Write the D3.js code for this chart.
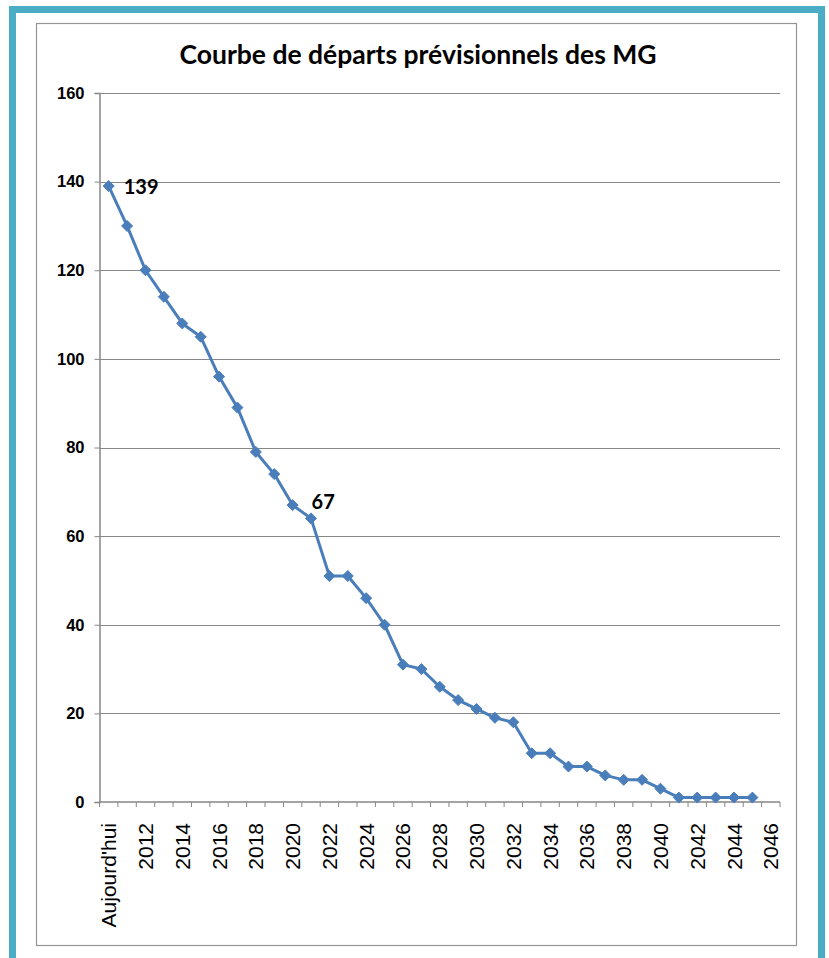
<!DOCTYPE html>
<html>
<head>
<meta charset="utf-8">
<script src="https://cdn.jsdelivr.net/npm/d3@7"></script>
<style>
  html, body { margin: 0; padding: 0; background: #fff; }
  svg { display: block; }
</style>
</head>
<body>
<svg id="chart" width="829" height="958"></svg>
<script>
// Categories: "Aujourd'hui" followed by the years 2011 … 2046
const categories = ["Aujourd'hui"].concat(d3.range(2011, 2047).map(String));

// Forecast number of GPs remaining (one value per category, 2046 has none)
const values = [139, 130, 120, 114, 108, 105, 96, 89, 79, 74, 67, 64, 51, 51, 46, 40,
                31, 30, 26, 23, 21, 19, 18, 11, 11, 8, 8, 6, 5, 5, 3, 1, 1, 1, 1, 1];

// Y axis ticks
const yTicks = [0, 20, 40, 60, 80, 100, 120, 140, 160];

// Categories whose value is written next to the marker
const labelledIndices = [0, 10];

const titleText = "Courbe de départs prévisionnels des MG";

const svg = d3.select("#chart");
const W = 829, H = 958;

// Outer frame and chart border
svg.append("rect").attr("x", 0).attr("y", 0).attr("width", W).attr("height", H).attr("fill", "#fff");
svg.append("rect")
  .attr("x", 12.5).attr("y", 9.5).attr("width", 809).attr("height", 960)
  .attr("fill", "none").attr("stroke", "#4BACC6").attr("stroke-width", 7);
svg.append("rect")
  .attr("x", 36.5).attr("y", 23.5).attr("width", 760).attr("height", 922)
  .attr("fill", "none").attr("stroke", "#969696").attr("stroke-width", 1.2);

// Plot area
const plot = { left: 99.5, right: 780, top: 93, bottom: 802 };

const x = d3.scaleBand()
  .domain(categories)
  .range([plot.left, plot.right])
  .paddingInner(0).paddingOuter(0);

const y = d3.scaleLinear()
  .domain([0, 160])
  .range([plot.bottom, plot.top]);

// Horizontal gridlines
svg.append("g")
  .selectAll("line")
  .data(yTicks.filter(t => t > 0))
  .join("line")
  .attr("x1", plot.left).attr("x2", plot.right)
  .attr("y1", d => Math.round(y(d)) + 0.5).attr("y2", d => Math.round(y(d)) + 0.5)
  .attr("stroke", "#868686").attr("stroke-width", 1);

// Title
svg.append("text")
  .attr("x", 418).attr("y", 64)
  .attr("text-anchor", "middle")
  .attr("font-family", "Lato, 'Open Sans', sans-serif")
  .attr("font-weight", "bold")
  .attr("font-size", 26.5)
  .attr("fill", "#000")
  .text(titleText);

// Y axis
const yAxis = svg.append("g")
  .attr("transform", `translate(${plot.left},0)`)
  .call(d3.axisLeft(y).tickValues(yTicks).tickSize(5).tickPadding(10).tickFormat(d3.format("d")));
yAxis.select(".domain").attr("stroke", "#868686").attr("stroke-width", 1.5);
yAxis.selectAll(".tick line").attr("stroke", "#868686").attr("stroke-width", 1);
yAxis.selectAll(".tick text")
  .attr("font-family", "'Liberation Sans', Arial, sans-serif")
  .attr("font-weight", "bold")
  .attr("font-size", 16.5)
  .attr("fill", "#000");

// X axis: ticks at category boundaries, labels on every other category
const xAxisG = svg.append("g").attr("transform", `translate(0,${plot.bottom})`);
xAxisG.append("line")
  .attr("x1", plot.left).attr("x2", plot.right)
  .attr("y1", 0).attr("y2", 0)
  .attr("stroke", "#868686").attr("stroke-width", 1.5);
const boundaries = categories.map(c => x(c)).concat([x(categories[categories.length - 1]) + x.bandwidth()]);
xAxisG.selectAll("line.tick")
  .data(boundaries)
  .join("line")
  .attr("class", "tick")
  .attr("x1", d => d).attr("x2", d => d)
  .attr("y1", 0).attr("y2", 5)
  .attr("stroke", "#868686").attr("stroke-width", 1);
xAxisG.selectAll("text")
  .data(categories.filter((c, i) => i % 2 === 0))
  .join("text")
  .attr("transform", d => `translate(${x(d) + x.bandwidth() / 2 + 7.5},21) rotate(-90)`)
  .attr("text-anchor", "end")
  .attr("font-family", "'Liberation Sans', Arial, sans-serif")
  .attr("font-size", 21)
  .attr("fill", "#000")
  .text(d => d);

// Series line and markers
const points = values.map((v, i) => ({ cat: categories[i], v, i }));
const cx = d => x(d.cat) + x.bandwidth() / 2;

svg.append("path")
  .datum(points)
  .attr("fill", "none")
  .attr("stroke", "#4A7EBB")
  .attr("stroke-width", 3)
  .attr("stroke-linejoin", "round")
  .attr("d", d3.line().x(cx).y(d => y(d.v)));

const r = 5.5;
svg.append("g")
  .selectAll("path")
  .data(points)
  .join("path")
  .attr("transform", d => `translate(${cx(d)},${y(d.v)})`)
  .attr("d", `M0,${-r}L${r},0L0,${r}L${-r},0Z`)
  .attr("fill", "#4A7EBB")
  .attr("stroke", "#4A7EBB")
  .attr("stroke-width", 1);

// Value labels
const labelOffset = { 0: [15, 8], 10: [19, 4] };
svg.append("g")
  .selectAll("text")
  .data(points.filter(p => labelledIndices.includes(p.i)))
  .join("text")
  .attr("x", d => cx(d) + labelOffset[d.i][0])
  .attr("y", d => y(d.v) + labelOffset[d.i][1])
  .attr("font-family", "Lato, 'Open Sans', sans-serif")
  .attr("font-weight", "bold")
  .attr("font-size", 20)
  .attr("fill", "#000")
  .text(d => d.v);
</script>
</body>
</html>
